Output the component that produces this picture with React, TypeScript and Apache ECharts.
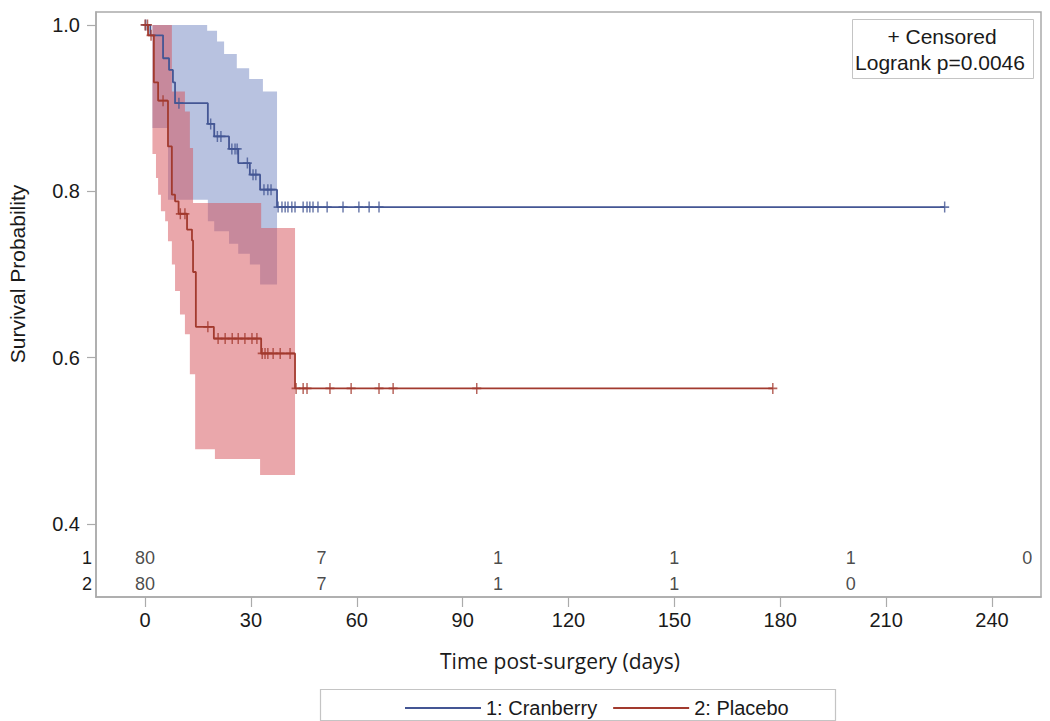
import React, { useEffect, useRef } from "react";
import * as echarts from "echarts";

// ---- axis ticks ----
const xTicks = [0, 30, 60, 90, 120, 150, 180, 210, 240];
const yTicks = [0.4, 0.6, 0.8, 1.0];

// ---- Kaplan-Meier step curves: time (days) and survival after the step ----
const cranTimes = [0, 1.5, 5.1, 6.8, 7.9, 8.5, 17.8, 19.6, 23.8, 26.4, 29.7, 32.6, 37.4, 226.6];
const cranSurv = [1.0, 0.9875, 0.96, 0.946, 0.931, 0.906, 0.881, 0.866, 0.851, 0.834, 0.82, 0.802, 0.781, 0.781];

const placTimes = [0, 0.85, 2.5, 3.7, 6.5, 7.6, 8.5, 9.5, 11.9, 13.3, 13.6, 14.4, 19.5, 32.9, 42.5, 177.9];
const placSurv = [1.0, 0.9875, 0.931, 0.909, 0.854, 0.796, 0.788, 0.773, 0.754, 0.741, 0.703, 0.637, 0.623, 0.605, 0.563, 0.563];

// ---- censored observation times ----
const cranCensor = [0.2, 9.6, 18.6, 20.5, 21.5, 24.6, 25.5, 26.1, 29.0, 30.6, 31.4, 33.7, 34.8, 35.7, 37.7, 38.8, 39.7, 40.5, 41.6, 42.5, 44.8, 45.9, 46.7, 47.6, 49.0, 51.6, 56.1, 60.6, 63.5, 66.3, 226.6];
const placCensor = [0, 0.7, 1.7, 5.1, 10.0, 11.3, 17.8, 20.7, 22.7, 24.7, 26.4, 28.3, 30.3, 31.7, 33.2, 34.0, 34.8, 36.3, 38.3, 41.1, 42.8, 44.8, 45.9, 52.4, 58.4, 66.3, 70.3, 94.0, 177.9];

// ---- confidence bands (step edges: breakpoints and level per interval) ----
const cranUpperT = [2.1, 17.6, 20.4, 22.4, 26.0, 29.5, 33.4, 37.4];
const cranUpperV = [1.0, 0.993, 0.98, 0.965, 0.948, 0.935, 0.92];
const cranLowerT = [2.1, 6.5, 17.8, 19.6, 23.8, 26.4, 29.7, 32.6, 37.4];
const cranLowerV = [0.876, 0.79, 0.764, 0.752, 0.737, 0.725, 0.712, 0.688];

const placUpperT = [2.1, 7.6, 11.3, 12.7, 13.6, 32.9, 42.5];
const placUpperV = [1.0, 0.92, 0.896, 0.852, 0.786, 0.756];
const placLowerT = [2.1, 3.1, 3.7, 4.5, 5.7, 6.5, 7.6, 8.5, 9.9, 11.3, 12.7, 14.2, 19.8, 32.6, 42.5];
const placLowerV = [0.845, 0.816, 0.796, 0.776, 0.764, 0.74, 0.712, 0.68, 0.652, 0.628, 0.58, 0.49, 0.478, 0.459];

// ---- numbers at risk ----
const riskTimes = [0, 50, 100, 150, 200, 250];
const riskCran = [80, 7, 1, 1, 1, 0];
const riskPlac = [80, 7, 1, 1, 0];
const riskRows = ["1", "2"];

const seriesNames = ["1: Cranberry", "2: Placebo"];

const BLUE = "#445694";
const RED = "#a23a2e";
const FRAME = "#ababab";
const TEXT = "#1a1a1a";
const FONT = "'Liberation Sans', Arial, sans-serif";

const X_MIN = -13.9;
const X_MAX = 253.9;
const Y_MIN = 0.3122;
const Y_MAX = 1.0156;

function stepAt(times: number[], surv: number[], t: number) {
  let v = surv[0];
  for (let i = 0; i < times.length; i++) {
    if (times[i] <= t) v = surv[i];
  }
  return v;
}

function bandRenderer(uT: number[], uV: number[], lT: number[], lV: number[], fill: string) {
  return (_params: any, api: any) => {
    const pts: number[][] = [];
    for (let i = 0; i < uV.length; i++) {
      pts.push(api.coord([uT[i], uV[i]]));
      pts.push(api.coord([uT[i + 1], uV[i]]));
    }
    for (let i = lV.length - 1; i >= 0; i--) {
      pts.push(api.coord([lT[i + 1], lV[i]]));
      pts.push(api.coord([lT[i], lV[i]]));
    }
    return { type: "polygon", shape: { points: pts }, style: { fill } };
  };
}

const censorSymbol = "path://M5,0L5,10M0,5L10,5";

export default function App() {
  const ref = useRef<HTMLDivElement>(null);

  useEffect(() => {
    if (!ref.current) return;
    const chart = echarts.init(ref.current, null, { renderer: "svg" });

    const option: any = {
      animation: false,
      backgroundColor: "#ffffff",
      textStyle: { fontFamily: FONT },
      grid: [
        { left: 96, right: 9, top: 12, bottom: 124, show: true, borderColor: FRAME, borderWidth: 1.5, backgroundColor: "transparent" },
        { left: 96, right: 9, top: 545, bottom: 124 },
      ],
      xAxis: [
        {
          type: "value",
          gridIndex: 0,
          min: X_MIN,
          max: X_MAX,
          axisLine: { show: true, onZero: false, lineStyle: { color: FRAME, width: 1.5 } },
          axisTick: { show: true, length: 10, customValues: xTicks, lineStyle: { color: FRAME, width: 1.2 } },
          axisLabel: { customValues: xTicks, margin: 13, fontSize: 20, color: TEXT, fontFamily: FONT, formatter: (v: number) => String(v) },
          splitLine: { show: false },
        },
        { type: "value", gridIndex: 1, min: X_MIN, max: X_MAX, show: false },
      ],
      yAxis: [
        {
          type: "value",
          gridIndex: 0,
          min: Y_MIN,
          max: Y_MAX,
          axisLine: { show: true, onZero: false, lineStyle: { color: FRAME, width: 1.5 } },
          axisTick: { show: true, length: 9, customValues: yTicks, lineStyle: { color: FRAME, width: 1.2 } },
          axisLabel: { customValues: yTicks, margin: 16, fontSize: 20, color: TEXT, fontFamily: FONT, formatter: (v: number) => v.toFixed(1) },
          splitLine: { show: false },
        },
        {
          type: "category",
          gridIndex: 1,
          data: riskRows,
          inverse: true,
          axisLine: { show: false },
          axisTick: { show: false },
          axisLabel: { margin: 4, fontSize: 18, color: TEXT, fontFamily: FONT },
          splitLine: { show: false },
        },
      ],
      legend: {
        data: seriesNames,
        left: 400,
        top: 693,
        icon: "rect",
        itemWidth: 76,
        itemHeight: 2,
        itemGap: 16,
        textStyle: { fontSize: 20, color: TEXT, fontFamily: FONT },
      },
      graphic: [
        { type: "rect", left: 318, top: 687, shape: { width: 515, height: 31 }, style: { fill: "none", stroke: "#c4c4c4", lineWidth: 1.2 }, silent: true },
        { type: "rect", left: 852, top: 19, shape: { width: 181, height: 59 }, style: { fill: "#fff", stroke: "#c4c4c4", lineWidth: 1 }, z: 10, silent: true },
        { type: "text", x: 942, y: 36, z: 11, style: { text: "+ Censored", fontSize: 21, fontFamily: FONT, fill: TEXT, textAlign: "center", textVerticalAlign: "middle" } },
        { type: "text", x: 940, y: 62, z: 11, style: { text: "Logrank p=0.0046", fontSize: 21, fontFamily: FONT, fill: TEXT, textAlign: "center", textVerticalAlign: "middle" } },
        { type: "text", x: 17, y: 274, rotation: Math.PI / 2, style: { text: "Survival Probability", fontSize: 21, fontFamily: FONT, fill: TEXT, textAlign: "center", textVerticalAlign: "middle" } },
        { type: "text", x: 560, y: 661, style: { text: "Time post-surgery (days)", fontSize: 21, fontFamily: "'Open Sans', 'Noto Sans', sans-serif", fill: TEXT, textAlign: "center", textVerticalAlign: "middle" } },
      ],
      series: [
        {
          type: "custom",
          xAxisIndex: 0,
          yAxisIndex: 0,
          renderItem: bandRenderer(cranUpperT, cranUpperV, cranLowerT, cranLowerV, "rgba(113,133,193,0.5)"),
          data: [[cranUpperT[0], cranUpperV[0]]],
          silent: true,
          z: 1,
        },
        {
          type: "custom",
          xAxisIndex: 0,
          yAxisIndex: 0,
          renderItem: bandRenderer(placUpperT, placUpperV, placLowerT, placLowerV, "rgba(213,79,87,0.5)"),
          data: [[placUpperT[0], placUpperV[0]]],
          silent: true,
          z: 2,
        },
        {
          name: seriesNames[0],
          type: "line",
          step: "end",
          symbol: "none",
          color: BLUE,
          lineStyle: { color: BLUE, width: 1.8 },
          data: cranTimes.map((t, i) => [t, cranSurv[i]]),
          z: 5,
        },
        {
          name: seriesNames[1],
          type: "line",
          step: "end",
          symbol: "none",
          color: RED,
          lineStyle: { color: RED, width: 1.8 },
          data: placTimes.map((t, i) => [t, placSurv[i]]),
          z: 5,
        },
        {
          type: "scatter",
          symbol: censorSymbol,
          symbolSize: [9, 11],
          itemStyle: { color: "none", borderColor: BLUE, borderWidth: 1.6 },
          data: cranCensor.map((t) => [t, stepAt(cranTimes, cranSurv, t)]),
          z: 6,
          silent: true,
        },
        {
          type: "scatter",
          symbol: censorSymbol,
          symbolSize: [9, 11],
          itemStyle: { color: "none", borderColor: RED, borderWidth: 1.6 },
          data: placCensor.map((t) => [t, stepAt(placTimes, placSurv, t)]),
          z: 6,
          silent: true,
        },
        {
          type: "scatter",
          xAxisIndex: 1,
          yAxisIndex: 1,
          symbolSize: 0,
          silent: true,
          label: { show: true, position: "inside", fontSize: 18, color: TEXT, fontFamily: FONT, formatter: (p: any) => String(p.value[2]) },
          data: [
            ...riskCran.map((n, i) => [riskTimes[i], 0, n]),
            ...riskPlac.map((n, i) => [riskTimes[i], 1, n]),
          ],
        },
      ],
    };

    chart.setOption(option);
    return () => chart.dispose();
  }, []);

  return (
    <div
      ref={ref}
      style={{ position: "fixed", left: 0, top: 0, width: 1050, height: 721, background: "#fff" }}
    />
  );
}
